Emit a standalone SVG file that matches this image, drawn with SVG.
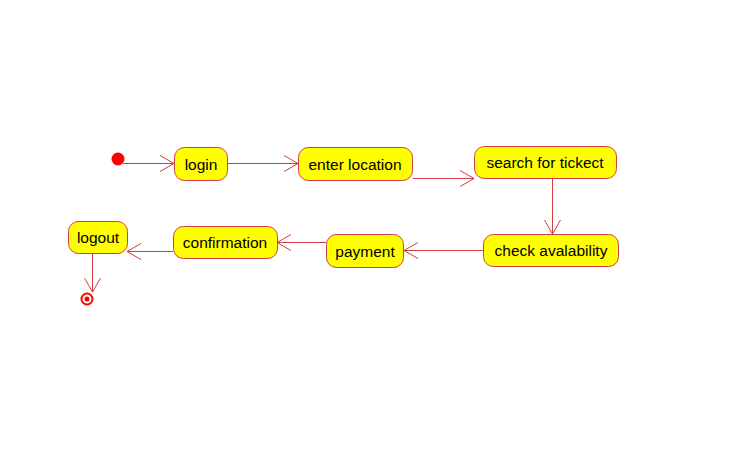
<svg xmlns="http://www.w3.org/2000/svg" width="751" height="459" viewBox="0 0 751 459">
<style>
.box{fill:#ffff00;stroke:#d23c3c;stroke-width:1}
.lbl{font-family:"Liberation Sans",Arial,sans-serif;font-size:15.5px;fill:#000;text-anchor:middle}
.edge{stroke:#d23c3c;stroke-width:1;fill:none}
</style>
<rect width="751" height="459" fill="#fff"/>
<g id="start"><circle cx="118" cy="159" r="6.5" fill="#ff0000"/></g>
<g id="login"><rect class="box" x="174.5" y="147.5" width="53" height="33" rx="10"/><text class="lbl" x="201" y="169.5">login</text></g>
<g id="enter-location"><rect class="box" x="298.5" y="147.5" width="114" height="33" rx="10"/><text class="lbl" x="355" y="169.5">enter location</text></g>
<g id="search"><rect class="box" x="474.5" y="146.5" width="142" height="32" rx="10"/><text class="lbl" x="545" y="168">search for tickect</text></g>
<g id="check"><rect class="box" x="483.5" y="234.5" width="135" height="32" rx="10"/><text class="lbl" x="551" y="256">check avalability</text></g>
<g id="payment"><rect class="box" x="326.5" y="234.5" width="77" height="33" rx="10"/><text class="lbl" x="365" y="256.5">payment</text></g>
<g id="confirmation"><rect class="box" x="173.5" y="226.5" width="104" height="32" rx="10"/><text class="lbl" x="225" y="248">confirmation</text></g>
<g id="logout"><rect class="box" x="68.5" y="221.5" width="59" height="32" rx="10"/><text class="lbl" x="98" y="243">logout</text></g>
<g id="end"><circle cx="87" cy="299" r="5.5" fill="none" stroke="#ff0000" stroke-width="2"/><circle cx="87" cy="299" r="2.5" fill="#ff0000"/></g>
<g id="connectors">
<path class="edge" d="M123 163.5H174M160 155.5L174 163.5L160 171.5"/>
<path class="edge" d="M228 163.5H298M284 155.5L298 163.5L284 171.5"/>
<path class="edge" d="M413 178.5H474M460 170.5L474 178.5L460 186.5"/>
<path class="edge" d="M552.5 179V234M544.5 220L552.5 234L560.5 220"/>
<path class="edge" d="M483 250.5H404M418 242.5L404 250.5L418 258.5"/>
<path class="edge" d="M326 242.5H277M291 234.5L277 242.5L291 250.5"/>
<path class="edge" d="M173 251.5H127M141 243.5L127 251.5L141 259.5"/>
<path class="edge" d="M92.5 254V292M84.5 278L92.5 292L100.5 278"/>
</g>
</svg>
